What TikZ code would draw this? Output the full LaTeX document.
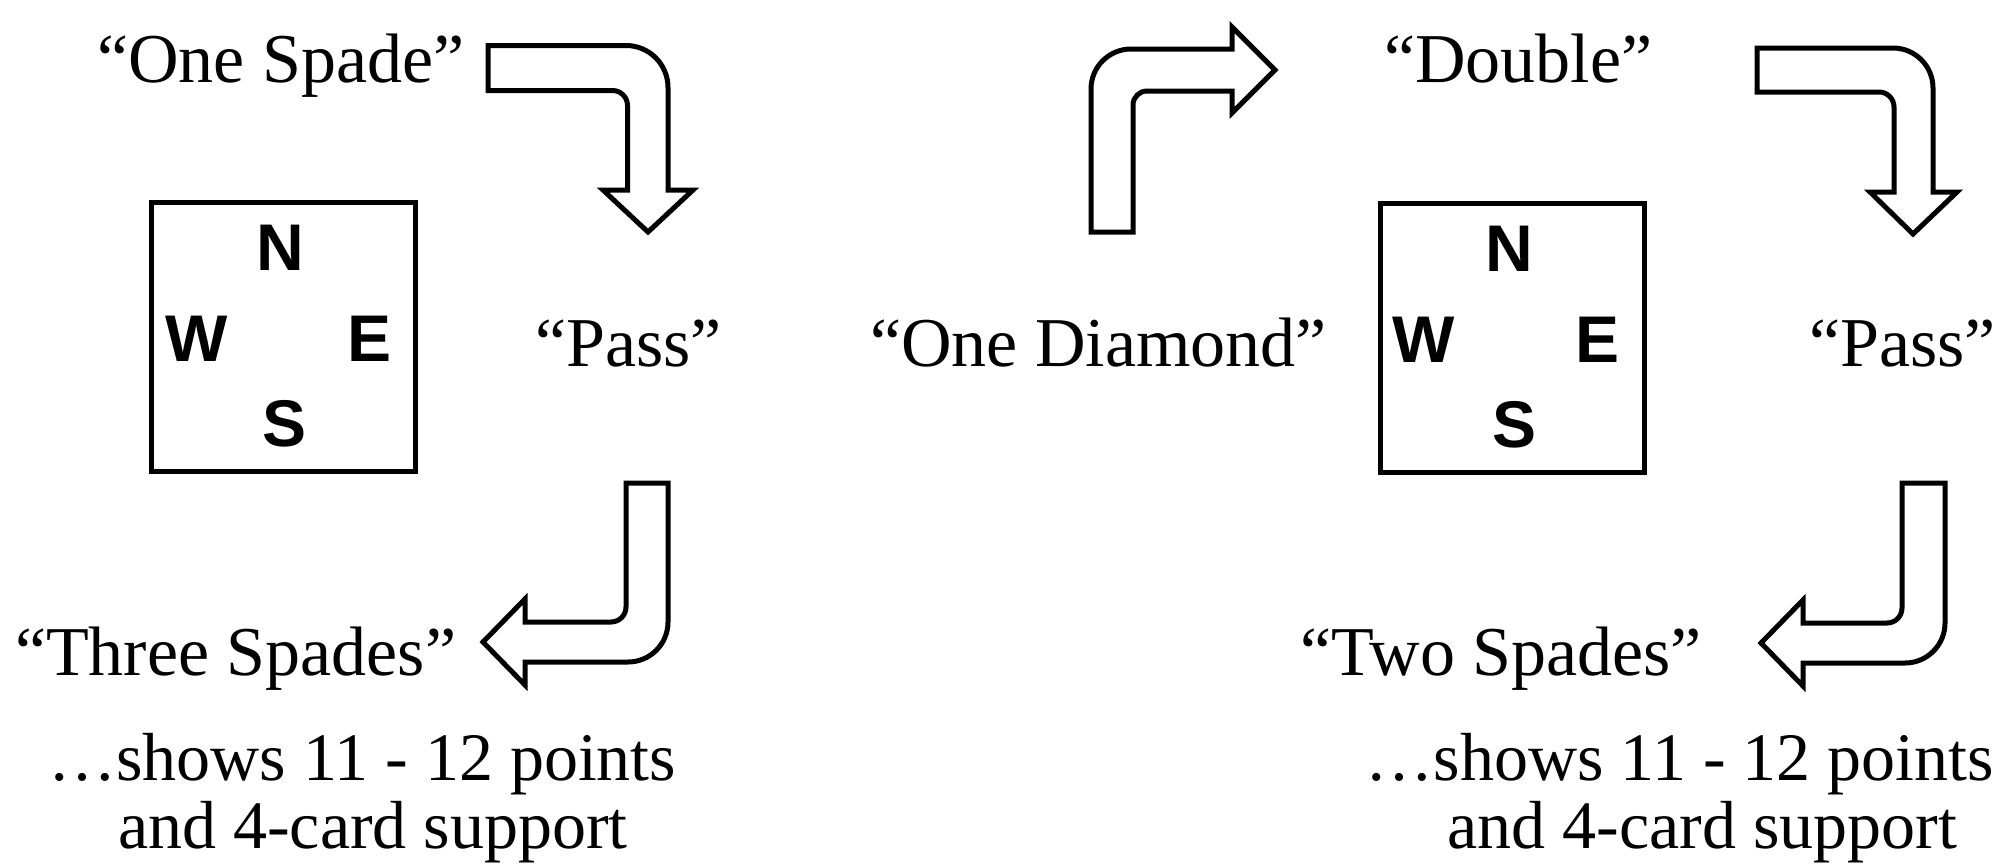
\documentclass[tikz,border=0pt]{standalone}
\usepackage{fontspec}
\setmainfont{Liberation Serif}
\newfontfamily\compassfont{Liberation Sans}
\begin{document}
\begin{tikzpicture}[x=1pt,y=-1pt,
  txt/.style={font=\fontsize{68}{80}\selectfont, inner sep=0pt, outer sep=0pt},
  quote/.style={font=\fontsize{70}{80}\selectfont, inner sep=0pt, outer sep=0pt},
  cmp/.style={font=\compassfont\bfseries\fontsize{66}{70}\selectfont, inner sep=0pt},
  blockarrow/.style={draw=black, line width=5pt, fill=white, line join=miter},
  tablebox/.style={draw=black, line width=5pt}]
\useasboundingbox (0,0) rectangle (1997,863);

% ---------- left table ----------
\draw[tablebox] (151,202) rectangle (415,471);
\node[cmp] (n1) at (280,248) {N};
\node[cmp] (w1) at (197,339) {W};
\node[cmp] (e1) at (370,339) {E};
\node[cmp] (s1) at (285,424) {S};

\node[quote, anchor=base west] (spade1) at (97,82) {“One Spade”};
\node[quote, anchor=base west] (pass1) at (535,366) {“Pass”};
\node[quote, anchor=base west] (three) at (15,675) {“Three Spades”};
\node[txt, anchor=base west] (shows1) at (48,780) {…shows 11 - 12 points};
\node[txt, anchor=base west] (and1) at (118,848) {and 4-card support};

% arrow: One Spade -> Pass
\draw[blockarrow] (488,45.5) -- (626,45.5) arc[start angle=270,end angle=360,radius=42]
  -- (668,190) -- (693,190) -- (648,232) -- (603,190) -- (627.5,190)
  -- (627.5,105.5) arc[start angle=0,end angle=-90,radius=15] -- (488,90.5) -- cycle;
% arrow: Pass -> Three Spades
\draw[blockarrow] (626,483) -- (668,483) -- (668,622) arc[start angle=0,end angle=90,radius=40]
  -- (525,662) -- (525,685) -- (483,642) -- (525,599) -- (525,622)
  -- (611,622) arc[start angle=90,end angle=0,radius=15] -- cycle;

% ---------- right table ----------
\draw[tablebox] (1380,203) rectangle (1644,472);
\node[cmp] (n2) at (1509,249) {N};
\node[cmp] (w2) at (1424,340) {W};
\node[cmp] (e2) at (1597,340) {E};
\node[cmp] (s2) at (1514,425) {S};

\node[quote, anchor=base west] (diamond) at (870,366) {“One Diamond”};
\node[quote, anchor=base west] (double) at (1384,82) {“Double”};
\node[quote, anchor=base east] (pass2) at (1996,366) {“Pass”};
\node[quote, anchor=base east] (two) at (1702,675) {“Two Spades”};
\node[txt, anchor=base east] (shows2) at (1994,780) {…shows 11 - 12 points};
\node[txt, anchor=base east] (and2) at (1957,848) {and 4-card support};

% arrow: One Diamond -> Double
\draw[blockarrow] (1091,232) -- (1091,89) arc[start angle=180,end angle=270,radius=40]
  -- (1232,49) -- (1232,27) -- (1275,70) -- (1232,113) -- (1232,91)
  -- (1147,91) arc[start angle=270,end angle=180,radius=14] -- (1133,232) -- cycle;
% arrow: Double -> Pass
\draw[blockarrow] (1757,48) -- (1893,48) arc[start angle=270,end angle=360,radius=40]
  -- (1933,192) -- (1957,192) -- (1913,234) -- (1870,192) -- (1894,192)
  -- (1894,107) arc[start angle=0,end angle=-90,radius=15] -- (1757,92) -- cycle;
% arrow: Pass -> Two Spades
\draw[blockarrow] (1902,483) -- (1945,483) -- (1945,623) arc[start angle=0,end angle=90,radius=40]
  -- (1803,663) -- (1803,686) -- (1761,643) -- (1803,600) -- (1803,623)
  -- (1887,623) arc[start angle=90,end angle=0,radius=15] -- cycle;
\end{tikzpicture}
\end{document}
